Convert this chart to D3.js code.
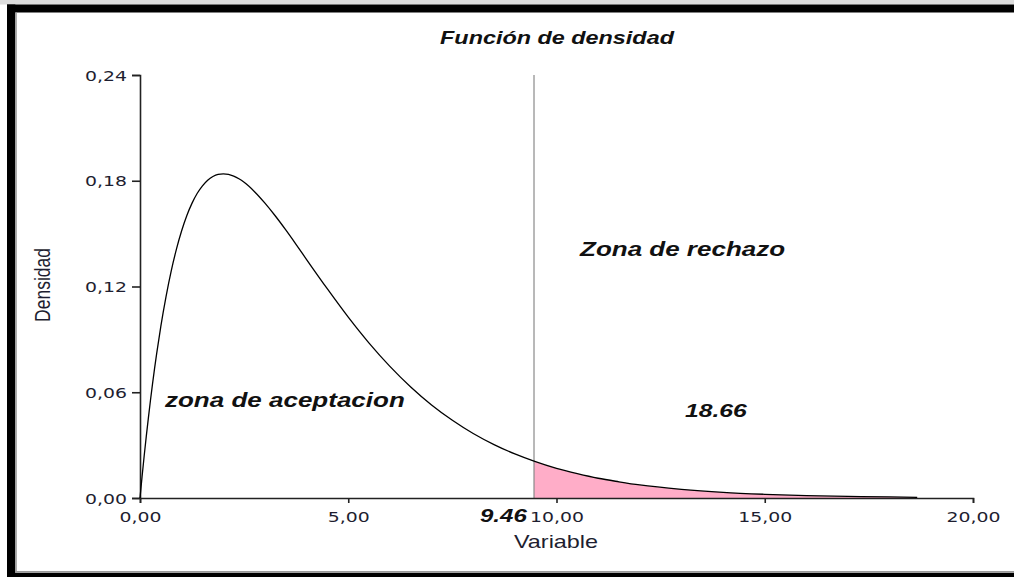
<!DOCTYPE html>
<html><head><meta charset="utf-8">
<script src="https://cdn.jsdelivr.net/npm/d3@7"></script>
<style>body{margin:0;background:#fff}svg{display:block}</style>
</head><body><svg id="c" width="1014" height="577"></svg>
<script>
// ---- data ----
const xValues = [0, 0.05, 0.1, 0.15, 0.2, 0.25, 0.3, 0.35, 0.4, 0.5, 0.625, 0.75, 0.875, 1, 1.125, 1.25, 1.375, 1.5, 1.625, 1.75, 1.875, 2, 2.125, 2.25, 2.375, 2.5, 2.75, 3, 3.25, 3.5, 3.75, 4, 4.5, 5, 5.5, 6, 6.5, 7, 7.5, 8, 8.5, 9, 9.46, 10, 10.5, 11, 11.5, 12, 13, 14, 15, 16, 17, 18, 18.66];
const densityValues = [0, 0.0122, 0.0238, 0.0348, 0.0452, 0.0552, 0.0646, 0.0735, 0.0819, 0.0974, 0.1143, 0.1289, 0.1412, 0.1516, 0.1603, 0.1673, 0.1729, 0.1771, 0.1803, 0.1824, 0.1836, 0.1839, 0.1836, 0.1826, 0.1811, 0.1791, 0.1738, 0.1673, 0.1600, 0.1521, 0.1438, 0.1353, 0.1186, 0.1026, 0.0879, 0.0747, 0.0630, 0.0528, 0.0441, 0.0366, 0.0303, 0.0250, 0.0209, 0.0168, 0.0138, 0.0112, 0.0092, 0.0074, 0.0049, 0.0032, 0.0021, 0.0013, 0.0009, 0.0006, 0.0004];
const criticalValue = 9.46;
const xTickValues = [0, 5, 10, 15, 20];
const yTickValues = [0, 0.06, 0.12, 0.18, 0.24];
const chartTitle = "Función de densidad";
const xAxisTitle = "Variable";
const yAxisTitle = "Densidad";
const acceptLabel = "zona de aceptacion";
const rejectLabel = "Zona de rechazo";
const rejectValueLabel = "18.66";
const criticalLabel = "9.46";

// ---- drawing ----
const svg = d3.select("#c");
const SX = 1.3; // horizontal stretch of the original picture
const pts = xValues.map((x, i) => ({x, y: densityValues[i]}));

const x = d3.scaleLinear().domain([0, 20]).range([140, 973]);
const y = d3.scaleLinear().domain([0, 0.24]).range([498, 75]);

// frame
svg.append("rect").attr("x", 0).attr("y", 0).attr("width", 1014).attr("height", 4.5).attr("fill", "#dcdcdc");
svg.append("rect").attr("x", 7).attr("y", 4.5).attr("width", 1007).attr("height", 8).attr("fill", "#000");
svg.append("rect").attr("x", 7).attr("y", 4.5).attr("width", 8.3).attr("height", 572.5).attr("fill", "#000");
svg.append("rect").attr("x", 15.3).attr("y", 12.5).attr("width", 1.5).attr("height", 560).attr("fill", "#9a9a9a");
svg.append("rect").attr("x", 7).attr("y", 572.8).attr("width", 1007).attr("height", 4.2).attr("fill", "#000");
svg.append("rect").attr("x", 15.3).attr("y", 571).attr("width", 999).attr("height", 1.8).attr("fill", "#9a9a9a");

// shaded rejection area
const tail = pts.filter(d => d.x >= criticalValue);
svg.append("path").datum(tail)
  .attr("fill", "#ffadc8")
  .attr("d", d3.area().curve(d3.curveMonotoneX).x(d => x(d.x)).y0(y(0)).y1(d => y(d.y)));

// critical line
svg.append("line")
  .attr("x1", x(criticalValue)).attr("x2", x(criticalValue))
  .attr("y1", y(0.24)).attr("y2", y(0))
  .attr("stroke", "#8a8a8a").attr("stroke-width", 1.2);

// axes
function styleAxis(g) {
  g.select(".domain").attr("stroke", "#222").attr("stroke-width", 1.6);
  g.selectAll(".tick line").attr("stroke", "#222").attr("stroke-width", 1.6);
  g.selectAll(".tick text").attr("fill", "#1e1e30")
    .style("font-family", "'DejaVu Sans', Verdana, sans-serif").style("font-size", "14.5px");
}
const fmt = v => d3.format(".2f")(v).replace(".", ",");

const gx = svg.append("g").attr("transform", `translate(0,${y(0)})`)
  .call(d3.axisBottom(x).tickValues(xTickValues).tickFormat(fmt).tickSizeOuter(0).tickSize(5).tickPadding(0));
styleAxis(gx);
gx.selectAll(".tick text").attr("dy", null).attr("y", null)
  .attr("transform", `translate(0,24) scale(${SX},1)`);

const gy = svg.append("g").attr("transform", `translate(${x(0)},0)`)
  .call(d3.axisLeft(y).tickValues(yTickValues).tickFormat(fmt).tickSizeOuter(0).tickSize(8).tickPadding(0));
styleAxis(gy);
gy.selectAll(".tick text").attr("x", null).attr("dy", "0.36em")
  .attr("transform", `translate(-13,0) scale(${SX},1)`);

// density curve
svg.append("path").datum(pts)
  .attr("fill", "none").attr("stroke", "#000").attr("stroke-width", 1.3)
  .attr("stroke-linejoin", "round")
  .attr("d", d3.line().curve(d3.curveMonotoneX).x(d => x(d.x)).y(d => y(d.y)));

// texts
function txt(str, tx, ty, opts) {
  return svg.append("text")
    .attr("transform", `translate(${tx},${ty}) scale(${SX},1)` + (opts.rotate ? ` rotate(${opts.rotate})` : ""))
    .attr("text-anchor", opts.anchor || "start")
    .attr("fill", opts.fill || "#111")
    .style("font-family", "'Liberation Sans', Arial, sans-serif")
    .style("font-size", opts.size + "px")
    .style("font-weight", opts.bold ? "bold" : "normal")
    .style("font-style", opts.italic ? "italic" : "normal")
    .text(str);
}
txt(chartTitle, 557, 44, {anchor: "middle", size: 18, bold: true, italic: true});
txt(xAxisTitle, 556, 548, {anchor: "middle", size: 18, fill: "#1e1e30"});
txt(yAxisTitle, 50, 285, {anchor: "middle", size: 17.5, rotate: -90, fill: "#1e1e30"});
txt(acceptLabel, 165, 407, {size: 20, bold: true, italic: true});
txt(rejectLabel, 580, 256, {size: 20, bold: true, italic: true});
txt(rejectValueLabel, 685, 417, {size: 19, bold: true, italic: true});
txt(criticalLabel, 480, 522, {size: 18.5, bold: true, italic: true});
</script></body></html>
